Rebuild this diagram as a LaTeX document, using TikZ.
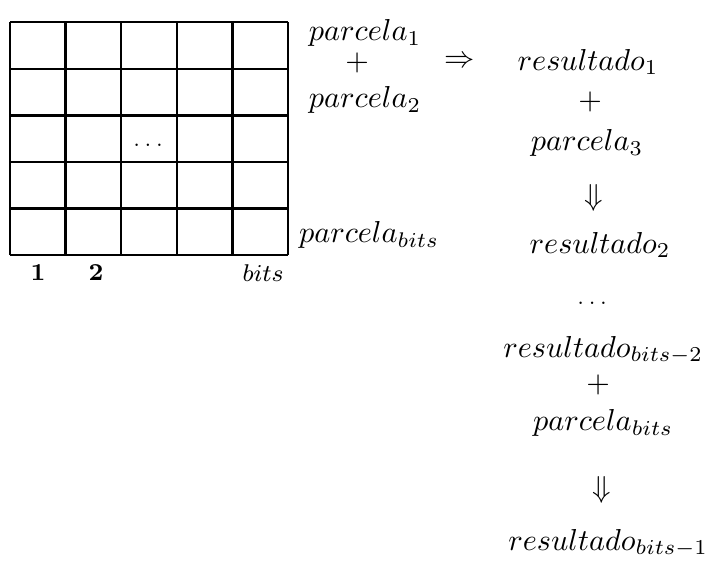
\documentclass[tikz,border=0pt]{standalone}
\usepackage{amsmath,amssymb}
\usetikzlibrary{positioning}

\begin{document}
\begin{tikzpicture}[
  grade/.style={thick, xstep=0.645, ystep=0.54},
  termo/.style={inner sep=1pt, font=\normalsize},
  reticencias/.style={inner sep=1pt, font=\scriptsize},
  rotulo/.style={inner sep=1pt, font=\footnotesize}
]
\useasboundingbox (-0.116,-3.63) rectangle (8.13,2.958);

%=== GRID OF PARTIAL PRODUCTS ===
\draw[grade] (0,0) grid (3.2251,2.7001);
\node[reticencias] (pontos) at (1.601,1.276) {$\ldots$};

%=== COLUMN LABELS ===
\node[rotulo] (col1)    at (0.325,-0.209) {$\mathbf{1}$};
\node[rotulo] (col2)    at (0.998,-0.209) {$\mathbf{2}$};
\node[rotulo] (colbits) at (2.935,-0.209) {$bits$};

%=== PARCELS BESIDE THE GRID ===
\node[termo] (p1)    at (4.118, 2.575) {$parcela_1$};
\node[termo] (mais1) at (4.025, 2.227) {$+$};
\node[termo] (p2)    at (4.118, 1.798) {$parcela_2$};
\node[termo] (pbits) at (4.164, 0.232) {$parcela_{bits}$};

\node[termo] (implica) at (5.220, 2.239) {$\Rightarrow$};

%=== SUMMATION CHAIN ===
\node[termo] (r1)     at (6.705, 2.239) {$resultado_1$};
\node[termo] (mais2)  at (6.728, 1.775) {$+$};
\node[termo] (p3)     at (6.693, 1.299) {$parcela_3$};
\node[termo] (desce1) at (6.774, 0.661) {$\Downarrow$};
\node[termo] (r2)     at (6.844, 0.116) {$resultado_2$};
\node[reticencias] (etc) at (6.751,-0.557) {$\ldots$};
\node[termo] (rbm2)   at (6.879,-1.102) {$resultado_{bits-2}$};
\node[termo] (mais3)  at (6.821,-1.508) {$+$};
\node[termo] (pb)     at (6.879,-1.949) {$parcela_{bits}$};
\node[termo] (desce2) at (6.867,-2.726) {$\Downarrow$};
\node[termo] (rbm1)   at (6.937,-3.341) {$resultado_{bits-1}$};

\end{tikzpicture}
\end{document}
